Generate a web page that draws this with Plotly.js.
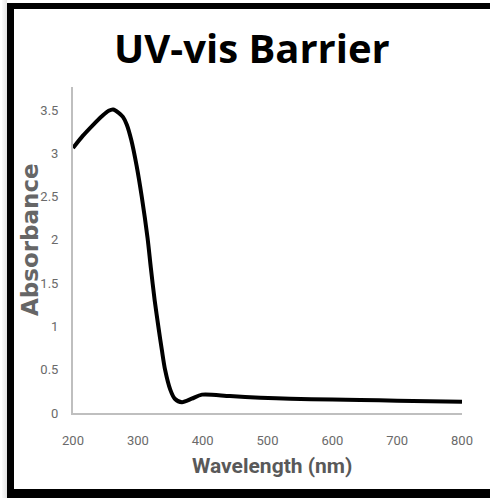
<!DOCTYPE html>
<html>
<head>
<meta charset="utf-8">
<script src="https://cdn.plot.ly/plotly-3.0.1.min.js"></script>
<style>
  html, body { margin: 0; padding: 0; background: #ffffff; }
  #wrap { position: relative; width: 493px; height: 498px; overflow: hidden; }
  #chart { position: absolute; left: 0; top: 0; width: 493px; height: 498px; }
  .bd { position: absolute; background: #000; pointer-events: none; }
</style>
</head>
<body>
<div id="wrap">
  <div id="chart"></div>
  <div style="position:absolute;left:2px;top:0;width:5px;height:498px;background:linear-gradient(to right,#fafafa,#e4e4e4);"></div>
  <div class="bd" style="left:7px;top:3px;width:483px;height:6px;"></div>
  <div class="bd" style="left:7px;top:3px;width:7px;height:495px;"></div>
  <div class="bd" style="left:7px;top:489px;width:483px;height:9px;"></div>
</div>
<script>
const wavelength = [200, 215, 230, 245, 255, 262, 270, 277, 283, 290, 298, 306, 315, 320, 326, 332, 337, 342, 350, 357, 368, 383, 399, 442, 489, 535, 600, 643, 700, 750, 800];
const absorbance = [3.06, 3.20, 3.32, 3.43, 3.49, 3.505, 3.47, 3.42, 3.33, 3.15, 2.86, 2.50, 2.02, 1.68, 1.30, 0.98, 0.73, 0.50, 0.27, 0.165, 0.125, 0.165, 0.212, 0.195, 0.177, 0.165, 0.155, 0.15, 0.142, 0.136, 0.13];
const xTicks = [200, 300, 400, 500, 600, 700, 800];
const yTicks = [0, 0.5, 1, 1.5, 2, 2.5, 3, 3.5];

const tickFont = {family: 'Roboto, sans-serif', size: 13, color: '#6a6a6a'};

const trace = {
  x: wavelength,
  y: absorbance,
  type: 'scatter',
  mode: 'lines',
  line: {color: '#000000', width: 4, shape: 'spline', smoothing: 0.8},
  hoverinfo: 'skip'
};

const layout = {
  width: 493,
  height: 498,
  margin: {l: 73, r: 31, t: 87, b: 85},
  paper_bgcolor: '#ffffff',
  plot_bgcolor: '#ffffff',
  showlegend: false,
  title: {
    text: '<b>UV-vis Barrier</b>',
    font: {family: '"Open Sans", sans-serif', size: 40, color: '#000000'},
    x: 0.511, xanchor: 'center', xref: 'container',
    y: 0.9016, yanchor: 'middle', yref: 'container'
  },
  xaxis: {
    range: [200, 800],
    tickvals: xTicks,
    ticktext: xTicks.map(String),
    showgrid: false,
    zeroline: false,
    showline: true,
    linecolor: '#bfbfbf',
    linewidth: 2,
    ticks: '',
    ticklabelstandoff: 14,
    tickfont: tickFont
  },
  yaxis: {
    range: [0, 3.765],
    tickvals: yTicks,
    ticktext: yTicks.map(String),
    showgrid: false,
    zeroline: false,
    showline: true,
    linecolor: '#bfbfbf',
    linewidth: 2,
    ticks: '',
    ticklabelstandoff: 10,
    tickfont: tickFont
  },
  annotations: [
    {
      text: '<b>Absorbance</b>',
      xref: 'paper', yref: 'paper',
      x: -0.1105, y: 0.5307,
      xanchor: 'center', yanchor: 'middle',
      textangle: -90,
      showarrow: false,
      font: {family: '"DejaVu Sans", sans-serif', size: 23, color: '#666666'}
    },
    {
      text: '<b>Wavelength (nm)</b>',
      xref: 'paper', yref: 'paper',
      x: 0.5116, y: -0.1626,
      xanchor: 'center', yanchor: 'middle',
      showarrow: false,
      font: {family: 'Roboto, sans-serif', size: 21, color: '#595959'}
    }
  ]
};

Plotly.newPlot('chart', [trace], layout, {staticPlot: true, displayModeBar: false});
</script>
</body>
</html>
